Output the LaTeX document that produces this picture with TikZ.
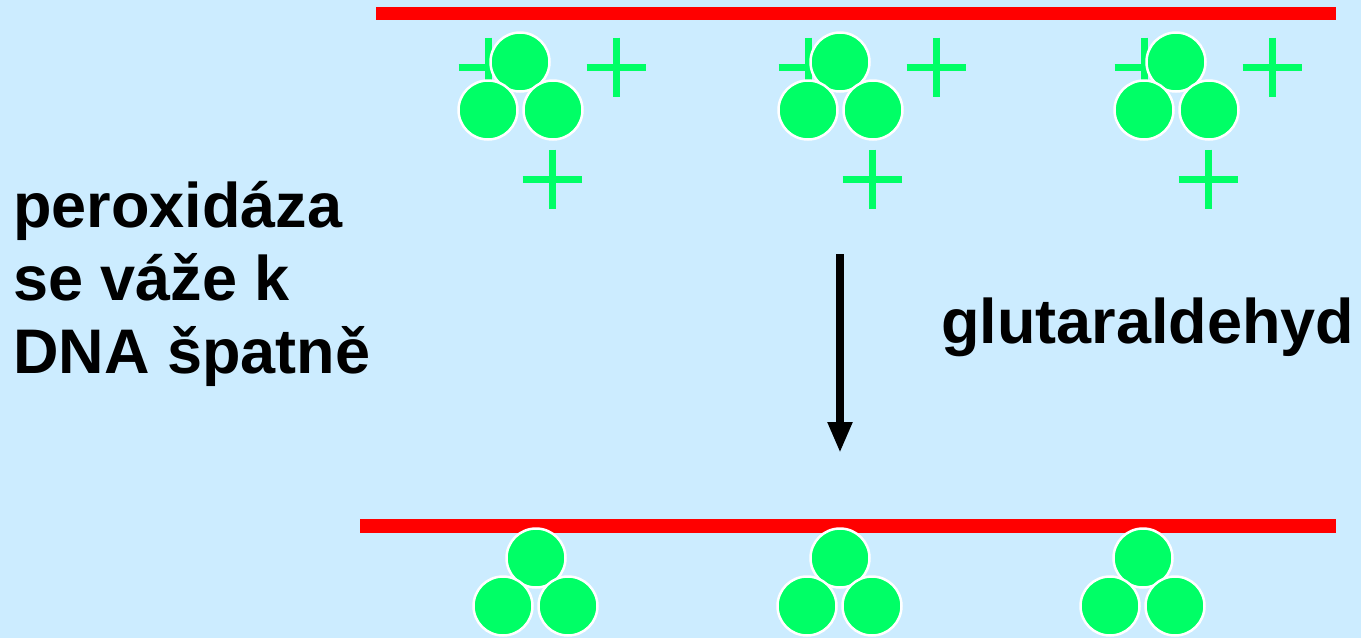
\documentclass[tikz,border=0pt]{standalone}
\usepackage{fontspec}
\setmainfont{Liberation Sans}
\usetikzlibrary{arrows.meta}
\definecolor{bgblue}{HTML}{CCECFF}
\definecolor{protgreen}{HTML}{00FF66}
\definecolor{dnared}{HTML}{FF0000}
\tikzset{
  ball/.style={circle, draw=white, fill=protgreen, line width=2.5pt, minimum size=59pt, inner sep=0pt},
  plusbar/.style={draw=protgreen, line width=7pt},
  dna/.style={draw=dnared, line width=13.5pt},
  label/.style={anchor=base west, inner sep=0pt, font=\fontsize{63}{73}\selectfont\bfseries, text=black},
  reaction/.style={line width=8pt, -{Triangle[width=23pt,length=31pt]}}
}
\begin{document}
\begin{tikzpicture}[x=1pt,y=-1pt]
\fill[bgblue] (0,0) rectangle (1361,638);
\useasboundingbox (0,0) rectangle (1361,638);
% top DNA strand
\coordinate (dnaTa) at (376,13.5);
\coordinate (dnaTb) at (1336,13.5);
\draw[dna] (dnaTa) -- (dnaTb);
% top clusters with charges
\foreach \i/\x in {1/520,2/840,3/1176}{
  \draw[plusbar] (\x-32-29.5,67) -- (\x-32+29.5,67);
  \draw[plusbar] (\x-32,67-29.5) -- (\x-32,67+29.5);
  \draw[plusbar] (\x+96-29.5,67) -- (\x+96+29.5,67);
  \draw[plusbar] (\x+96,67-29.5) -- (\x+96,67+29.5);
  \draw[plusbar] (\x+32-29.5,179) -- (\x+32+29.5,179);
  \draw[plusbar] (\x+32,179-29.5) -- (\x+32,179+29.5);
  \node[ball] (top\i a) at (\x,62) {};
  \node[ball] (top\i b) at (\x-32,110) {};
  \node[ball] (top\i c) at (\x+33,110) {};
}
% bottom DNA strand
\coordinate (dnaBa) at (360,526);
\coordinate (dnaBb) at (1336,526);
\draw[dna] (dnaBa) -- (dnaBb);
\foreach \i/\x in {1/536,2/840,3/1143}{
  \node[ball] (bot\i a) at (\x,558) {};
  \node[ball] (bot\i b) at (\x-33,606) {};
  \node[ball] (bot\i c) at (\x+32,606) {};
}
% arrow
\coordinate (arrA) at (840,254);
\coordinate (arrB) at (840,453);
\draw[reaction] (arrA) -- (arrB);
% texts
\node[label] (l1) at (13,227) {peroxidáza};
\node[label] (l2) at (13,300) {se váže k};
\node[label] (l3) at (13,373) {DNA špatně};
\node[label] (glu) at (941,343) {glutaraldehyd};
\end{tikzpicture}
\end{document}
